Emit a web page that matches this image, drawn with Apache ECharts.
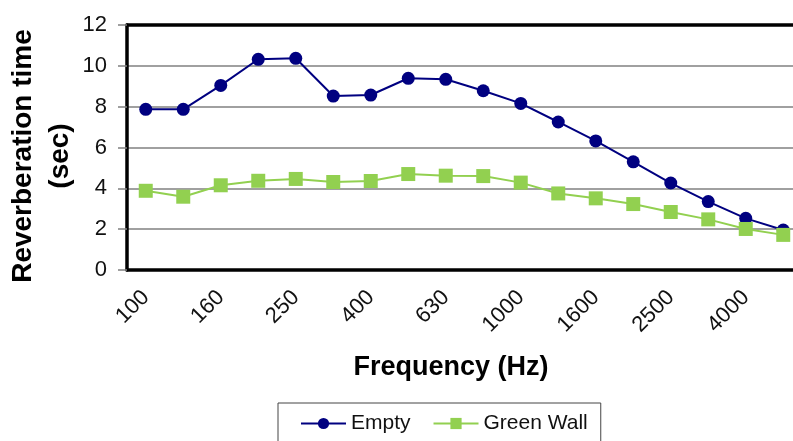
<!DOCTYPE html>
<html>
<head>
<meta charset="utf-8">
<title>Reverberation time</title>
<script src="https://cdn.jsdelivr.net/npm/echarts@6/dist/echarts.min.js"></script>
<style>
  html, body { margin: 0; padding: 0; background: #fff; overflow: hidden; }
  /* the plot area runs slightly past the right edge of the page */
  #chart { width: 802px; height: 441px; }
</style>
</head>
<body>
<div id="chart"></div>
<script>
// One-third octave band centre frequencies (Hz)
const frequencies = ['100', '125', '160', '200', '250', '315', '400', '500', '630',
  '800', '1000', '1250', '1600', '2000', '2500', '3150', '4000', '5000'];

// Reverberation time (sec) per band
const emptyRoom = [7.87, 7.87, 9.04, 10.32, 10.37, 8.52, 8.57, 9.39, 9.34,
  8.78, 8.16, 7.25, 6.32, 5.30, 4.26, 3.35, 2.53, 1.96];
const greenWall = [3.88, 3.59, 4.15, 4.37, 4.46, 4.31, 4.36, 4.70, 4.62,
  4.60, 4.28, 3.75, 3.51, 3.23, 2.84, 2.48, 2.01, 1.72];

// Y axis range
const yMin = 0;
const yMax = 12;
const yStep = 2;

const FONT = "'Liberation Sans', Arial, sans-serif";
const NAVY = '#000080';
const GREEN = '#92D050';

const chart = echarts.init(document.getElementById('chart'), null, { renderer: 'canvas' });

chart.setOption({
  backgroundColor: '#fff',
  animation: false,
  textStyle: { fontFamily: FONT },
  grid: { left: 127, top: 25, right: 0, bottom: 171 },
  xAxis: [{
    type: 'category',
    data: frequencies,
    boundaryGap: true,
    axisLine: { lineStyle: { color: '#000', width: 3.5 } },
    axisTick: { interval: 0, length: 6, lineStyle: { color: '#555', width: 1 } },
    axisLabel: {
      interval: 1, rotate: 45, margin: 24,
      fontSize: 22, color: '#111', fontFamily: FONT
    },
    splitLine: { show: false }
  }, {
    // top frame line of the plot area
    type: 'category',
    position: 'top',
    data: frequencies,
    axisLine: { lineStyle: { color: '#000', width: 3.5 } },
    axisTick: { show: false },
    axisLabel: { show: false },
    splitLine: { show: false }
  }],
  yAxis: {
    type: 'value',
    min: yMin, max: yMax, interval: yStep,
    axisLine: { show: true, lineStyle: { color: '#000', width: 3.5 } },
    axisTick: { show: true, length: 9, lineStyle: { color: '#808080', width: 1.5 } },
    axisLabel: { margin: 20, fontSize: 22, color: '#111', fontFamily: FONT },
    splitLine: { lineStyle: { color: '#808080', width: 1.5 } }
  },
  legend: {
    data: ['Empty', 'Green Wall'],
    left: 278, top: 403,
    orient: 'horizontal',
    itemWidth: 45, itemHeight: 14, itemGap: 22,
    padding: [10, 13, 20, 22],
    borderColor: '#444', borderWidth: 1,
    textStyle: { fontSize: 21, color: '#111', fontFamily: FONT }
  },
  graphic: [{
    type: 'text',
    x: 42, y: 156,
    rotation: Math.PI / 2,
    style: {
      text: 'Reverberation time\n(sec)',
      font: "bold 28px " + FONT,
      fill: '#000',
      align: 'center',
      verticalAlign: 'middle',
      lineHeight: 37
    }
  }, {
    type: 'text',
    x: 451, y: 368,
    style: {
      text: 'Frequency (Hz)',
      font: "bold 27px " + FONT,
      fill: '#000',
      align: 'center',
      verticalAlign: 'middle'
    }
  }],
  series: [{
    name: 'Empty',
    type: 'line',
    data: emptyRoom,
    symbol: 'circle',
    symbolSize: 13,
    lineStyle: { color: NAVY, width: 2 },
    itemStyle: { color: NAVY }
  }, {
    name: 'Green Wall',
    type: 'line',
    data: greenWall,
    symbol: 'rect',
    symbolSize: 14,
    lineStyle: { color: GREEN, width: 2 },
    itemStyle: { color: GREEN }
  }]
});
</script>
</body>
</html>
